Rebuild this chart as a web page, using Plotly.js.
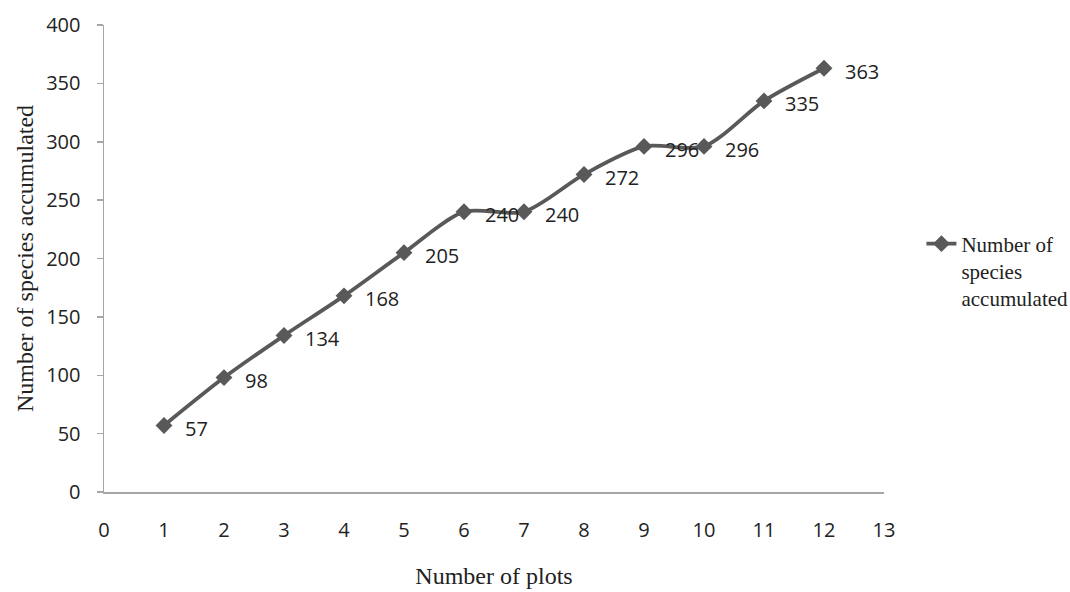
<!DOCTYPE html>
<html><head><meta charset="utf-8">
<script src="https://cdn.plot.ly/plotly-3.0.1.min.js"></script>
<style>html,body{margin:0;padding:0;background:#fff;}</style>
</head><body>
<div id="chart" style="width:1070px;height:592px;"></div>
<script>
const plots = [1,2,3,4,5,6,7,8,9,10,11,12];
const species = [57,98,134,168,205,240,240,272,296,296,335,363];
const seriesName = "Number of<br>species<br>accumulated";
const xTicks = [0,1,2,3,4,5,6,7,8,9,10,11,12,13];
const yTicks = [0,50,100,150,200,250,300,350,400];

const col = '#595959';
const sans = 'Open Sans, sans-serif';
const serif = 'Liberation Serif, serif';
const trace = {
  x: plots, y: species, type: 'scatter', mode: 'lines+markers',
  name: seriesName,
  line: {color: col, width: 3.8, shape: 'spline', smoothing: 0.8},
  marker: {symbol: 'diamond', size: 13, color: col}
};
const annotations = plots.map((p, i) => ({
  x: p, y: species[i], xref: 'x', yref: 'y', text: String(species[i]),
  showarrow: false, xanchor: 'left', yanchor: 'middle', xshift: 19, yshift: -3,
  font: {family: sans, size: 20, color: '#222'}
}));
const layout = {
  width: 1070, height: 592,
  margin: {l: 104, r: 186, t: 25, b: 100, autoexpand: false},
  paper_bgcolor: '#fff', plot_bgcolor: '#fff',
  font: {family: sans, size: 20, color: '#222'},
  xaxis: {
    range: [0, 13], tickvals: xTicks, ticktext: xTicks.map(String),
    showgrid: false, zeroline: false, showline: true, linecolor: '#a6a6a6', linewidth: 1.5,
    ticks: 'outside', ticklen: 19, tickcolor: 'rgba(0,0,0,0)',
    tickfont: {family: sans, size: 20, color: '#222'},
    title: {text: 'Number of plots', font: {family: serif, size: 24, color: '#222'}, standoff: 25}
  },
  yaxis: {
    range: [0, 400], tickvals: yTicks, ticktext: yTicks.map(String),
    showgrid: false, zeroline: false, showline: true, linecolor: '#a6a6a6', linewidth: 1.5,
    ticks: 'outside', ticklen: 6, tickcolor: '#a6a6a6', tickwidth: 1.5,
    ticklabelstandoff: 12,
    tickfont: {family: sans, size: 20, color: '#222'},
    title: {text: 'Number of species accumulated', font: {family: serif, size: 24, color: '#222'}, standoff: 6}
  },
  showlegend: true,
  legend: {x: 1.048, y: 0.575, xanchor: 'left', yanchor: 'top', valign: 'top',
    font: {family: serif, size: 21, color: '#222'}, bgcolor: 'rgba(0,0,0,0)'},
  annotations: annotations
};
Plotly.newPlot('chart', [trace], layout, {displayModeBar: false, staticPlot: true});
</script>
</body></html>
